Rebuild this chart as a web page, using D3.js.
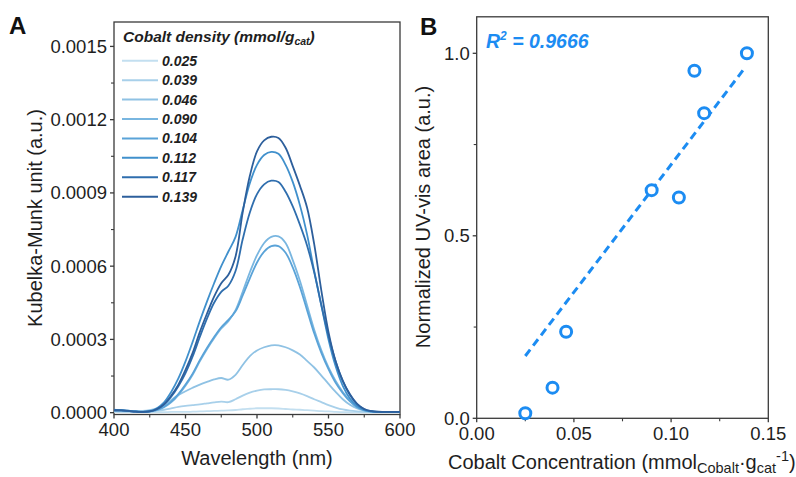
<!DOCTYPE html>
<html>
<head>
<meta charset="utf-8">
<script src="https://cdn.jsdelivr.net/npm/d3@7"></script>
<style>
    body { margin: 0; background: #fff; }
    svg { display: block; font-family: "Liberation Sans", Arial, sans-serif; }
</style>
</head>
<body>
<svg id="chart"></svg>
<script>
/*--------------------------------------------------------------------------------
----- DATA (panel A spectra in units of 1e-4 Kubelka-Munk, panel B areas)
--------------------------------------------------------------------------------*/
const wavelengths = [400, 405, 410, 415, 420, 425, 430, 435, 440, 445, 450, 455, 460, 465, 470,
    475, 480, 485, 490, 495, 500, 505, 510, 515, 520, 525, 530, 535, 540, 545, 550, 555, 560,
    565, 570, 575, 580, 585, 590, 595, 600];

const cobalt_densities = ["0.025", "0.039", "0.046", "0.090", "0.104", "0.112", "0.117", "0.139"];
const series_colors = ["#c3dff0", "#a8d0ea", "#8fc2e4", "#79b6e0", "#5aa3d8", "#4090cc", "#2f6eae", "#2d5f9c"];

const km_025 = [0.03, 0.02, 0.02, 0.02, 0.02, 0.02, 0.02, 0.02, 0.03, 0.03, 0.03, 0.04, 0.05, 0.06, 0.07,
    0.08, 0.09, 0.11, 0.14, 0.16, 0.18, 0.18, 0.18, 0.17, 0.15, 0.13, 0.12, 0.10, 0.08, 0.06, 0.05, 0.03, 0.02,
    0.01, 0.01, 0.01, 0.01, 0.01, 0.01, 0.01, 0.01];
const km_039 = [0.06, 0.05, 0.04, 0.03, 0.03, 0.05, 0.08, 0.12, 0.18, 0.24, 0.28, 0.31, 0.34, 0.38, 0.42,
    0.45, 0.43, 0.55, 0.70, 0.82, 0.90, 0.95, 0.96, 0.96, 0.93, 0.87, 0.79, 0.68, 0.55, 0.43, 0.31, 0.21, 0.13,
    0.08, 0.05, 0.03, 0.02, 0.02, 0.02, 0.02, 0.02];
const km_046 = [0.10, 0.09, 0.08, 0.07, 0.07, 0.10, 0.18, 0.32, 0.52, 0.72, 0.88, 1.02, 1.15, 1.26, 1.36,
    1.42, 1.35, 1.55, 1.95, 2.32, 2.55, 2.68, 2.76, 2.76, 2.68, 2.55, 2.38, 2.12, 1.85, 1.52, 1.18, 0.85, 0.55,
    0.32, 0.17, 0.08, 0.04, 0.03, 0.03, 0.03, 0.03];
const km_090 = [0.10, 0.09, 0.07, 0.05, 0.03, 0.04, 0.10, 0.22, 0.42, 0.72, 1.10, 1.55, 2.10, 2.60, 3.05,
    3.45, 3.75, 4.20, 4.95, 5.75, 6.45, 6.95, 7.20, 7.22, 6.95, 6.25, 5.40, 4.40, 3.40, 2.55, 1.85, 1.30, 0.85,
    0.50, 0.25, 0.10, 0.04, 0.03, 0.03, 0.03, 0.03];
const km_104 = [0.10, 0.09, 0.07, 0.05, 0.03, 0.05, 0.11, 0.24, 0.45, 0.76, 1.15, 1.60, 2.15, 2.65, 3.10,
    3.50, 3.80, 4.15, 4.80, 5.50, 6.15, 6.60, 6.82, 6.82, 6.55, 5.95, 5.15, 4.20, 3.25, 2.45, 1.78, 1.22, 0.80,
    0.46, 0.22, 0.09, 0.04, 0.03, 0.03, 0.03, 0.03];
const km_112 = [0.12, 0.10, 0.08, 0.05, 0.03, 0.06, 0.18, 0.42, 0.85, 1.40, 2.10, 2.90, 3.75, 4.55, 5.30,
    6.00, 6.60, 7.20, 8.30, 9.40, 10.15, 10.55, 10.68, 10.60, 10.15, 9.45, 8.50, 7.30, 5.80, 4.40, 3.00, 1.90, 1.10,
    0.58, 0.27, 0.11, 0.05, 0.03, 0.03, 0.03, 0.03];
const km_117 = [0.10, 0.09, 0.07, 0.04, 0.03, 0.05, 0.14, 0.33, 0.65, 1.08, 1.62, 2.30, 3.10, 3.85, 4.50,
    4.95, 5.20, 5.80, 7.10, 8.20, 8.95, 9.35, 9.50, 9.45, 9.05, 8.45, 7.70, 6.85, 5.75, 4.40, 3.15, 2.10, 1.30,
    0.72, 0.35, 0.14, 0.06, 0.03, 0.03, 0.03, 0.03];
const km_139 = [0.10, 0.09, 0.07, 0.04, 0.03, 0.05, 0.15, 0.35, 0.70, 1.15, 1.75, 2.45, 3.30, 4.05, 4.75,
    5.30, 5.65, 6.40, 8.20, 9.70, 10.70, 11.15, 11.30, 11.25, 10.85, 10.10, 9.30, 8.40, 6.90, 5.00, 3.30, 2.10, 1.30,
    0.75, 0.36, 0.15, 0.06, 0.04, 0.03, 0.03, 0.03];
const km_series = [km_025, km_039, km_046, km_090, km_104, km_112, km_117, km_139];

const spectra_y_ticks = [0, 0.0003, 0.0006, 0.0009, 0.0012, 0.0015];
const spectra_x_ticks = [400, 450, 500, 550, 600];

// Panel B: cobalt concentration vs normalised UV-vis area
const cobalt_conc = [0.025, 0.039, 0.046, 0.090, 0.104, 0.112, 0.117, 0.139];
const uv_area = [0.014, 0.084, 0.237, 0.625, 0.605, 0.952, 0.836, 1.0];
const fit_x_range = [0.025, 0.137];
const fit_slope = 6.99, fit_intercept = -0.004;
const area_x_ticks = [0, 0.05, 0.10, 0.15];
const area_y_ticks = [0, 0.5, 1.0];

/*--------------------------------------------------------------------------------
----- SETUP
--------------------------------------------------------------------------------*/
const width = 796, height = 477;
const text_color = "#1e1e1e", axis_color = "#3a3a3a";
const fit_color = "#1c8cf2";
const tick_font = 18.5, title_font = 20, sub_font = 14.5;

const svg = d3.select("#chart").attr("width", width).attr("height", height);

// Function to draw a framed plot with outward ticks
function draw_frame(x_scale, y_scale, opts) {
    const [x0, x1] = x_scale.range();
    const [y0, y1] = y_scale.range();
    const g = svg.append("g");

    // Frame around the plotting area
    g.append("rect")
        .attr("x", x0).attr("y", y1)
        .attr("width", x1 - x0).attr("height", y0 - y1)
        .attr("fill", "none").attr("stroke", axis_color).attr("stroke-width", 1.3);

    // Major ticks and labels on the X-axis
    opts.x_ticks.forEach(t => {
        const x = x_scale(t);
        g.append("line").attr("x1", x).attr("x2", x).attr("y1", y0).attr("y2", y0 + 4)
            .attr("stroke", axis_color).attr("stroke-width", 1.3);
        g.append("text").attr("x", x).attr("y", y0 + 21.5)
            .attr("text-anchor", "middle").attr("font-size", tick_font).attr("fill", text_color)
            .text(opts.x_format(t));
    });
    // Minor ticks on the X-axis (halfway between the majors)
    d3.pairs(opts.x_ticks).forEach(([a, b]) => {
        const x = x_scale((a + b) / 2);
        g.append("line").attr("x1", x).attr("x2", x).attr("y1", y0).attr("y2", y0 + 3)
            .attr("stroke", axis_color).attr("stroke-width", 1.1);
    });

    // Major ticks and labels on the Y-axis
    opts.y_ticks.forEach(t => {
        const y = y_scale(t);
        g.append("line").attr("x1", x0 - 4).attr("x2", x0).attr("y1", y).attr("y2", y)
            .attr("stroke", axis_color).attr("stroke-width", 1.3);
        g.append("text").attr("x", x0 - 7).attr("y", y).attr("dy", "0.35em")
            .attr("text-anchor", "end").attr("font-size", tick_font).attr("fill", text_color)
            .text(opts.y_format(t));
    });
    // Minor ticks on the Y-axis
    d3.pairs(opts.y_ticks).forEach(([a, b]) => {
        const y = y_scale((a + b) / 2);
        g.append("line").attr("x1", x0 - 3).attr("x2", x0).attr("y1", y).attr("y2", y)
            .attr("stroke", axis_color).attr("stroke-width", 1.1);
    });
    return g;
}

/*--------------------------------------------------------------------------------
----- PANEL A (Kubelka-Munk spectra)
--------------------------------------------------------------------------------*/
const spectra_x_scale = d3.scaleLinear().domain([400, 600]).range([114, 400]);
const spectra_y_scale = d3.scaleLinear().domain([-0.0000075, 0.0016]).range([414.5, 22]);

draw_frame(spectra_x_scale, spectra_y_scale, {
    x_ticks: spectra_x_ticks, x_format: d3.format("d"),
    y_ticks: spectra_y_ticks, y_format: d3.format(".4f")
});

const spectra_line = d3.line()
    .x((d, i) => spectra_x_scale(wavelengths[i]))
    .y(d => spectra_y_scale(d * 1e-4))
    .curve(d3.curveCatmullRom.alpha(0.5));

svg.append("g").selectAll("path")
    .data(km_series)
    .enter()
    .append("path")
    .attr("d", spectra_line)
    .attr("fill", "none")
    .attr("stroke", (d, i) => series_colors[i])
    .attr("stroke-width", 1.8);

// Legend
const legend = svg.append("g");
const legend_title = legend.append("text")
    .attr("x", 123).attr("y", 42)
    .attr("font-size", 15.5).attr("font-weight", "bold").attr("font-style", "italic")
    .attr("fill", text_color);
legend_title.append("tspan").text("Cobalt density (mmol/g");
legend_title.append("tspan").attr("font-size", 10.5).attr("dy", 3).text("cat");
legend_title.append("tspan").attr("dy", -3).text(")");

cobalt_densities.forEach((label, i) => {
    const y = 60.7 + i * 19.43;
    legend.append("line")
        .attr("x1", 122).attr("x2", 158).attr("y1", y).attr("y2", y)
        .attr("stroke", series_colors[i]).attr("stroke-width", 2);
    legend.append("text")
        .attr("x", 162).attr("y", y).attr("dy", "0.36em")
        .attr("font-size", 14).attr("font-weight", "bold").attr("font-style", "italic")
        .attr("fill", text_color)
        .text(label);
});

// Axis titles and panel letter
svg.append("text")
    .attr("transform", "translate(42,218) rotate(-90)")
    .attr("text-anchor", "middle").attr("font-size", title_font).attr("fill", text_color)
    .text("Kubelka-Munk unit (a.u.)");
svg.append("text")
    .attr("x", 257).attr("y", 465)
    .attr("text-anchor", "middle").attr("font-size", title_font).attr("fill", text_color)
    .text("Wavelength (nm)");
svg.append("text")
    .attr("x", 9).attr("y", 34)
    .attr("font-size", 24).attr("font-weight", "bold").attr("fill", "#111")
    .text("A");

/*--------------------------------------------------------------------------------
----- PANEL B (normalised UV-vis area vs cobalt concentration)
--------------------------------------------------------------------------------*/
const area_x_scale = d3.scaleLinear().domain([0, 0.15]).range([476.7, 768.3]);
const area_y_scale = d3.scaleLinear().domain([0, 1.1]).range([418.3, 16.8]);

draw_frame(area_x_scale, area_y_scale, {
    x_ticks: area_x_ticks, x_format: d3.format(".2f"),
    y_ticks: area_y_ticks, y_format: d3.format(".1f")
});

// Dashed linear fit
svg.append("line")
    .attr("x1", area_x_scale(fit_x_range[0]))
    .attr("y1", area_y_scale(fit_intercept + fit_slope * fit_x_range[0]))
    .attr("x2", area_x_scale(fit_x_range[1]))
    .attr("y2", area_y_scale(fit_intercept + fit_slope * fit_x_range[1]))
    .attr("stroke", fit_color).attr("stroke-width", 3)
    .attr("stroke-dasharray", "8,5");

// Open circle markers
svg.append("g").selectAll("circle")
    .data(cobalt_conc)
    .enter()
    .append("circle")
    .attr("cx", d => area_x_scale(d))
    .attr("cy", (d, i) => area_y_scale(uv_area[i]))
    .attr("r", 5.5)
    .attr("fill", "#fff")
    .attr("stroke", fit_color)
    .attr("stroke-width", 3);

// R squared annotation
const r2_text = svg.append("text")
    .attr("x", 486).attr("y", 48)
    .attr("font-size", 19.5).attr("font-weight", "bold").attr("font-style", "italic")
    .attr("fill", fit_color);
r2_text.append("tspan").text("R");
r2_text.append("tspan").attr("font-size", 12).attr("dy", -8).text("2");
r2_text.append("tspan").attr("dy", 8).text(" = 0.9666");

// Axis titles and panel letter
svg.append("text")
    .attr("transform", "translate(430,217) rotate(-90)")
    .attr("text-anchor", "middle").attr("font-size", title_font).attr("fill", text_color)
    .text("Normalized UV-vis area (a.u.)");

const area_x_title = svg.append("text")
    .attr("x", 448).attr("y", 469)
    .attr("font-size", title_font).attr("fill", text_color);
area_x_title.append("tspan").text("Cobalt Concentration (mmol");
area_x_title.append("tspan").attr("font-size", sub_font).attr("dy", 4).text("Cobalt");
area_x_title.append("tspan").attr("dy", -4).text("·g");
area_x_title.append("tspan").attr("font-size", sub_font).attr("dy", 4).text("cat");
area_x_title.append("tspan").attr("font-size", sub_font).attr("dy", -12).text("-1");
area_x_title.append("tspan").attr("dy", 8).text(")");

svg.append("text")
    .attr("x", 420).attr("y", 35)
    .attr("font-size", 24).attr("font-weight", "bold").attr("fill", "#111")
    .text("B");
</script>
</body>
</html>
